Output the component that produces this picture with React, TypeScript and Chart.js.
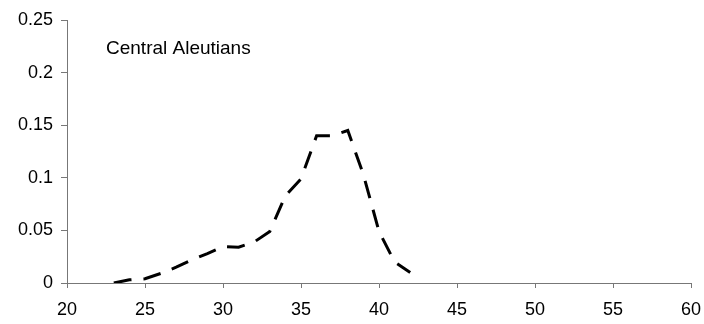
import React, { useEffect, useRef } from "react";
import { Chart, registerables } from "chart.js";

Chart.register(...registerables);

const lengths: number[] = [23, 24, 25, 26, 27, 28, 29, 30, 31, 32, 33, 34, 35, 36, 37, 38, 39, 40, 41, 42];
const proportions: number[] = [0, 0.003, 0.004, 0.009, 0.015, 0.022, 0.028, 0.0345, 0.034, 0.039, 0.049, 0.083, 0.099, 0.14, 0.14, 0.145, 0.103, 0.049, 0.02, 0.01];
const xTicks: number[] = [20, 25, 30, 35, 40, 45, 50, 55, 60];
const yTicks: number[] = [0, 0.05, 0.1, 0.15, 0.2, 0.25];
const yTickLabels: string[] = ["0", "0.05", "0.1", "0.15", "0.2", "0.25"];
const regionLabel = "Central Aleutians";

const FONT = "'Liberation Sans', Arial, sans-serif";

const labelPlugin = {
  id: "regionLabel",
  afterDraw(chart: any) {
    const ctx = chart.ctx;
    ctx.save();
    ctx.font = `19px ${FONT}`;
    ctx.fillStyle = "#000";
    ctx.textBaseline = "alphabetic";
    ctx.textAlign = "left";
    ctx.fillText(regionLabel, 106, 54);
    ctx.restore();
  },
};

export default function App() {
  const ref = useRef<HTMLCanvasElement | null>(null);
  useEffect(() => {
    if (!ref.current) return;
    const chart = new Chart(ref.current, {
      type: "line",
      data: {
        datasets: [
          {
            data: lengths.map((x, i) => ({ x, y: proportions[i] })),
            borderColor: "#000",
            borderWidth: 3,
            borderDash: [18, 12],
            pointRadius: 0,
            tension: 0,
            fill: false,
          },
        ],
      },
      options: {
        animation: false,
        responsive: false,
        maintainAspectRatio: false,
        layout: { padding: { top: 20, right: 13, left: 0, bottom: 0 } },
        plugins: { legend: { display: false }, tooltip: { enabled: false } },
        scales: {
          x: {
            type: "linear",
            min: 20,
            max: 60,
            afterBuildTicks: (axis: any) => {
              axis.ticks = xTicks.map((v) => ({ value: v }));
            },
            afterFit: (axis: any) => {
              axis.height = 41;
              axis.paddingLeft = 0;
              axis.paddingRight = 0;
            },
            ticks: {
              color: "#000",
              font: { family: FONT, size: 18 },
              padding: 11,
              maxRotation: 0,
              autoSkip: false,
            },
            grid: { drawOnChartArea: false, drawTicks: true, tickLength: 5, color: "#777" },
            border: { display: true, color: "#777", width: 1 },
          },
          y: {
            type: "linear",
            min: 0,
            max: 0.25,
            afterBuildTicks: (axis: any) => {
              axis.ticks = yTicks.map((v) => ({ value: v }));
            },
            afterFit: (axis: any) => {
              axis.width = 67;
              axis.paddingTop = 0;
              axis.paddingBottom = 0;
            },
            ticks: {
              color: "#000",
              font: { family: FONT, size: 18 },
              padding: 8,
              autoSkip: false,
              callback: (v: any) => {
                const i = yTicks.findIndex((t) => Math.abs(t - Number(v)) < 1e-9);
                return i >= 0 ? yTickLabels[i] : "";
              },
            },
            grid: { drawOnChartArea: false, drawTicks: true, tickLength: 6, color: "#777" },
            border: { display: true, color: "#777", width: 1 },
          },
        },
      },
      plugins: [labelPlugin],
    });
    return () => chart.destroy();
  }, []);
  return (
    <div style={{ position: "fixed", left: 0, top: 0, width: 704, height: 324, background: "#fff" }}>
      <canvas ref={ref} width={704} height={324} style={{ width: 704, height: 324 }} />
    </div>
  );
}
